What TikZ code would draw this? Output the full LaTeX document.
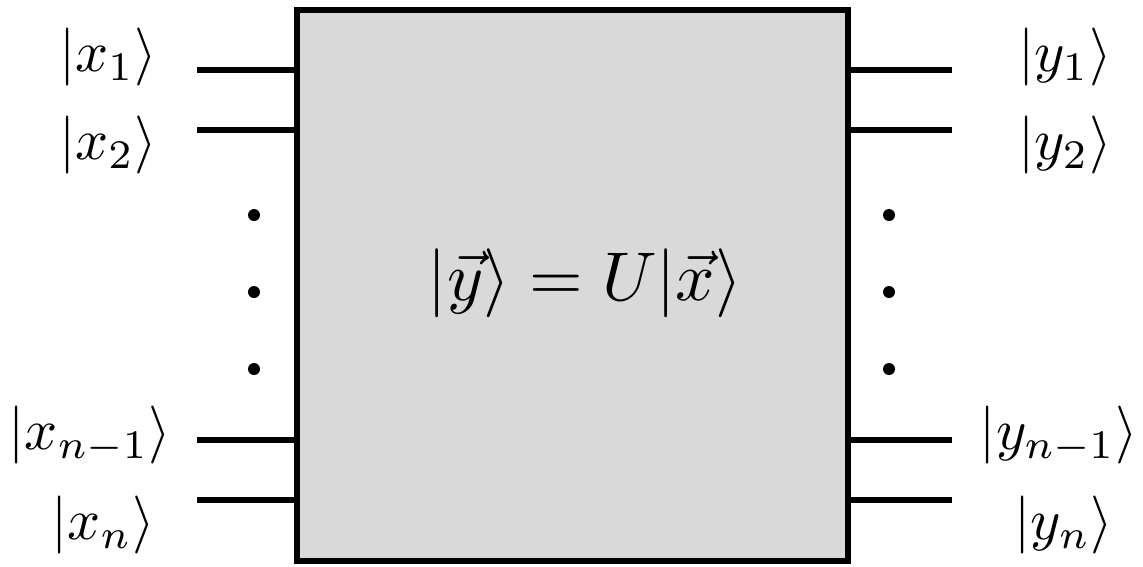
\documentclass[tikz,border=0pt]{standalone}
\usepackage{amsmath}
\definecolor{boxgray}{HTML}{D9D9D9}
\begin{document}
\begin{tikzpicture}[x=1pt,y=-1pt,
  wire/.style={line width=5.5pt},
  lbl/.style={inner sep=0pt,scale=5.8},
  dotmark/.style={circle,fill=black,inner sep=0pt,minimum size=12pt}]
\useasboundingbox (0,0) rectangle (1143,566);
\node[draw=black,fill=boxgray,line width=5.5pt,minimum width=551pt,minimum height=551pt,inner sep=0pt] (U) at (572.5,285.5) {};
\node[inner sep=0pt,scale=6.9] (eq) at (585,283) {$|\vec{y}\rangle = U|\vec{x}\rangle$};
% left wires
\coordinate (l1) at (197,70);
\coordinate (l2) at (197,130);
\coordinate (l3) at (197,440);
\coordinate (l4) at (197,500);
\draw[wire] (l1) -- (l1 -| U.west);
\draw[wire] (l2) -- (l2 -| U.west);
\draw[wire] (l3) -- (l3 -| U.west);
\draw[wire] (l4) -- (l4 -| U.west);
% right wires
\coordinate (r1) at (952,70);
\coordinate (r2) at (952,130);
\coordinate (r3) at (952,440);
\coordinate (r4) at (952,500);
\draw[wire] (r1 -| U.east) -- (r1);
\draw[wire] (r2 -| U.east) -- (r2);
\draw[wire] (r3 -| U.east) -- (r3);
\draw[wire] (r4 -| U.east) -- (r4);
% labels
\node[lbl] (x1) at (108,57) {$|x_1\rangle$};
\node[lbl] (x2) at (108,145) {$|x_2\rangle$};
\node[lbl] (xn1) at (90,435) {$|x_{n-1}\rangle$};
\node[lbl] (xn) at (103,525) {$|x_n\rangle$};
\node[lbl] (y1) at (1065,57) {$|y_1\rangle$};
\node[lbl] (y2) at (1065,145) {$|y_2\rangle$};
\node[lbl] (yn1) at (1059,435) {$|y_{n-1}\rangle$};
\node[lbl] (yn) at (1064,525) {$|y_n\rangle$};
% dots
\node[dotmark] (dl1) at (254,215) {};
\node[dotmark] (dl2) at (254,292) {};
\node[dotmark] (dl3) at (254,369) {};
\node[dotmark] (dr1) at (889,215) {};
\node[dotmark] (dr2) at (889,292) {};
\node[dotmark] (dr3) at (889,369) {};
\end{tikzpicture}
\end{document}
